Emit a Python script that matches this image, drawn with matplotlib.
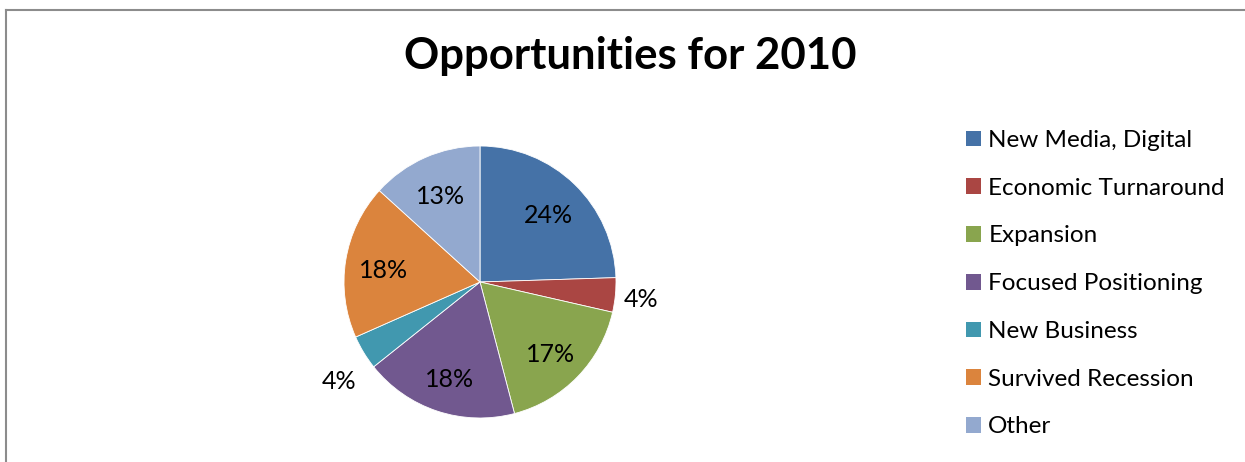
import numpy as np
import matplotlib
matplotlib.use('Agg')
from matplotlib import pyplot as plt
from matplotlib.patches import Patch

# Chart data.
categories = ['New Media, Digital', 'Economic Turnaround', 'Expansion',
              'Focused Positioning', 'New Business', 'Survived Recession',
              'Other']
shares = [24, 4, 17, 18, 4, 18, 13]
colors = ['#4572A7', '#AA4643', '#89A54E', '#71588F', '#4198AF',
          '#DB843D', '#93A9CF']
title = 'Opportunities for 2010'

plt.rcParams['font.family'] = ['Lato', 'DejaVu Sans']

W, H = 1245, 462
fig = plt.figure(figsize=(W/100, H/100), dpi=100)

# Frame lines along the top and left edge.
fig.add_artist(plt.Line2D([6/W, 6/W], [0, 1-10/H], color='#8c8c8c',
                          lw=1.5, transform=fig.transFigure))
fig.add_artist(plt.Line2D([6/W, 1], [1-10/H, 1-10/H], color='#8c8c8c',
                          lw=1.5, transform=fig.transFigure))

# Pie axes placed by pixel box.
cx, cy, r = 480, 282, 136
ax = fig.add_axes([(cx-r)/W, 1-(cy+r)/H, 2*r/W, 2*r/H])
wedges, texts = ax.pie(shares, colors=colors, startangle=90,
                       counterclock=False,
                       wedgeprops=dict(edgecolor='white', linewidth=0.6))
ax.set_xlim(-1, 1)
ax.set_ylim(-1, 1)
ax.set_aspect('equal')
ax.axis('off')

# Percentage labels: inside for big slices, outside for small ones.
for w, v in zip(wedges, shares):
    ang = np.deg2rad((w.theta1 + w.theta2)/2)
    if v >= 10:
        d = 0.72
        ha = 'center'
    else:
        d = 1.06
        ha = 'left' if np.cos(ang) > 0 else 'right'
    x, y = d*np.cos(ang), d*np.sin(ang)
    if v < 10 and np.cos(ang) < 0:
        y -= 0.18
    else:
        y -= 0.03
    ax.text(x, y, '%d%%' % v, ha=ha, va='center', fontsize=18,
            color='black')

fig.text(630/W, 1-69/H, title, ha='center', va='baseline',
         fontsize=31.5, fontweight='bold')

handles = [Patch(facecolor=c, edgecolor='none') for c in colors]
fig.legend(handles, categories, loc='upper left',
           bbox_to_anchor=(966/W, 1-130/H), frameon=False, fontsize=17.5,
           handlelength=0.62, handleheight=0.62, handletextpad=0.3,
           labelspacing=1.1, borderaxespad=0, borderpad=0)

fig.savefig('out.png', dpi=100)
